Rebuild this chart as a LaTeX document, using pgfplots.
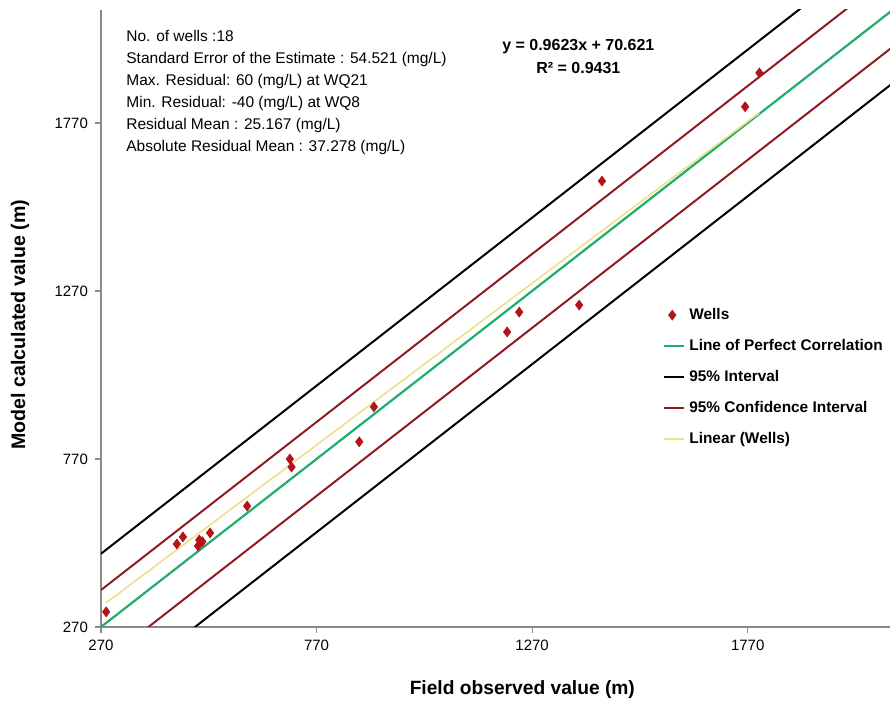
\documentclass[border=0pt]{standalone}
\usepackage{fontspec}
\setmainfont{Liberation Sans}
\usepackage{pgfplots}
\pgfplotsset{compat=1.18}
\definecolor{perfect}{HTML}{1EAD6C}
\definecolor{confred}{HTML}{8E1C22}
\definecolor{trend}{HTML}{ECE08A}
\definecolor{wells}{HTML}{B3141A}
\definecolor{axisgray}{HTML}{8A8A8A}
\pgfplotsset{
    shortline/.style={legend image code/.code={\draw[##1] (0pt,0pt) -- (10pt,0pt);}},
    shortmark/.style={legend image code/.code={\draw[##1] plot coordinates {(4pt,0pt)};}},
}

\pgfplotstableread{
x y
282 315
446 517
460 538
495 511
498 529
505 524
523 550
609 630
708 770
712 746
869 821
903 925
1212 1148
1240 1207
1379 1228
1432 1597
1764 1818
1797 1919
}\wells

\begin{document}
\begin{tikzpicture}
\begin{axis}[
    name=ax,
    width=394.5pt, height=308.5pt,
    scale only axis,
    xmin=270, xmax=2100,
    ymin=270, ymax=2106,
    axis x line=bottom, axis y line=left,
    axis line style={axisgray, line width=0.8pt, -},
    xtick={270,770,1270,1770},
    ytick={270,770,1270,1770},
    tick align=outside,
    major tick length=3pt,
    tick style={axisgray, line width=0.6pt},
    /pgf/number format/assume math mode=true,
    /pgf/number format/1000 sep={},
    ticklabel style={font=\fontsize{7.5}{8}\selectfont},
    xlabel={\textbf{Field observed value (m)}},
    ylabel={\textbf{Model calculated value (m)}},
    xlabel style={font=\fontsize{9.6}{10}\selectfont, at={(axis description cs:0.534,0)}, anchor=center, yshift=-31.5pt},
    ylabel style={font=\fontsize{9.8}{10}\selectfont, at={(axis description cs:0,0.49)}, anchor=center, yshift=40.5pt},
    clip=true,
    legend cell align=left,
    legend style={at={(rel axis cs:0.712,0.524)}, anchor=north west,
        draw=none, fill=none, font=\bfseries\fontsize{7.7}{8}\selectfont,
        row sep=4.4pt, inner sep=0pt},
]
% 95% interval
\addplot[black, line width=1pt, forget plot] coordinates {(270,488) (2100,2318)};
\addplot[black, line width=1pt, forget plot] coordinates {(270,52) (2300,2082)};
% 95% confidence interval
\addplot[confred, line width=1pt, forget plot] coordinates {(270,380) (2100,2210)};
\addplot[confred, line width=1pt, forget plot] coordinates {(270,160) (2300,2190)};
% perfect correlation
\addplot[perfect, line width=1.1pt, forget plot] coordinates {(270,270) (2106,2106)};
% linear trend y = 0.9623x + 70.621
\addplot[trend, line width=0.8pt, forget plot] coordinates {(282,342) (1797,1800)};
% wells
\addplot[only marks, mark=diamond*, mark size=2.4pt, color=wells, shortmark] table {\wells};
\addlegendentry{Wells}
\addlegendimage{perfect, line width=1.1pt, shortline}
\addlegendentry{Line of Perfect Correlation}
\addlegendimage{black, line width=1pt, shortline}
\addlegendentry{95\% Interval}
\addlegendimage{confred, line width=1pt, shortline}
\addlegendentry{95\% Confidence Interval}
\addlegendimage{trend, line width=0.8pt, shortline}
\addlegendentry{Linear (Wells)}

\node[anchor=north west, align=left, font=\fontsize{7.75}{11}\selectfont, inner sep=0pt]
    at (rel axis cs:0.0317,0.968)
    {No. of wells :18\\
     Standard Error of the Estimate : 54.521 (mg/L)\\
     Max. Residual: 60 (mg/L) at WQ21\\
     Min. Residual: -40 (mg/L) at WQ8\\
     Residual Mean : 25.167 (mg/L)\\
     Absolute Residual Mean : 37.278 (mg/L)};
\node[align=center, font=\bfseries\fontsize{8}{11.5}\selectfont, inner sep=0pt]
    at (rel axis cs:0.605,0.925)
    {y = 0.9623x + 70.621\\R² = 0.9431};
\end{axis}
\pgfresetboundingbox
\path ([shift={(-50.5pt,-37.5pt)}]ax.south west) rectangle ([shift={(3pt,5pt)}]ax.north east);
\end{tikzpicture}
\end{document}
